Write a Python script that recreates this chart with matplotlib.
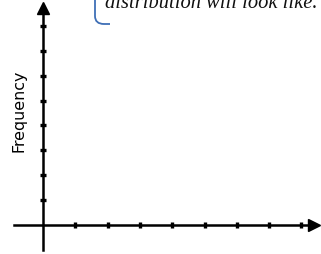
import matplotlib
matplotlib.use("Agg")
import matplotlib.pyplot as plt
from matplotlib.path import Path
from matplotlib.patches import PathPatch

# Chart content
x_ticks = [1, 2, 3, 4, 5, 6, 7, 8]
y_ticks = [1, 2, 3, 4, 5, 6, 7, 8]
y_label = "Frequency"
callout = "distribution will look like."

W, H = 321, 254
fig = plt.figure(figsize=(W / 100, H / 100), dpi=100)
ax = fig.add_axes([0, 0, 1, 1])
ax.set_facecolor("none")

# pixel geometry: origin at (43, 225) from top-left, tick spacing
x0, y0, dx, dy = 43, 225, 32.3, 24.9
ax.set_xlim(-x0 / dx, (W - x0) / dx)
ax.set_ylim(-(H - y0) / dy, y0 / dy)

for s in ["top", "right"]:
    ax.spines[s].set_visible(False)
ax.spines["left"].set_position(("data", 0))
ax.spines["bottom"].set_position(("data", 0))
ax.spines["left"].set_bounds(-(250 - y0) / dy, (y0 - 8) / dy)
ax.spines["bottom"].set_bounds(-(x0 - 14) / dx, (314 - x0) / dx)
for s in ["left", "bottom"]:
    ax.spines[s].set_linewidth(1.8)
    ax.spines[s].set_color("black")

ax.set_xticks(x_ticks)
ax.set_yticks(y_ticks)
ax.set_xticklabels([])
ax.set_yticklabels([])
ax.tick_params(direction="inout", length=5, width=2.4, color="black")

# arrow heads
ax.plot([0], [(y0 - 8) / dy], marker="^", markersize=8, color="black",
        clip_on=False, linestyle="none")
ax.plot([(314 - x0) / dx], [0], marker=">", markersize=8, color="black",
        clip_on=False, linestyle="none")

fig.text(19.5 / W, 1 - 110.5 / H, y_label, rotation=90, ha="center", va="center",
         fontsize=11.4, family="DejaVu Sans", color="black")

fig.text(105 / W, 1 - 8.5 / H, callout, ha="left", va="baseline",
         fontsize=14.8, family="Liberation Serif", style="italic", color="#111111")

# blue callout bracket
def f(px, py):
    return (px / W, 1 - py / H)

verts = [f(95, -2), f(95, 16), f(95, 24), f(104, 24), f(110, 24)]
codes = [Path.MOVETO, Path.LINETO, Path.CURVE3, Path.CURVE3, Path.LINETO]
fig.add_artist(PathPatch(Path(verts, codes), transform=fig.transFigure,
                         facecolor="none", edgecolor="#3F6FB6", linewidth=1.3))

fig.savefig("out.png", dpi=100)
